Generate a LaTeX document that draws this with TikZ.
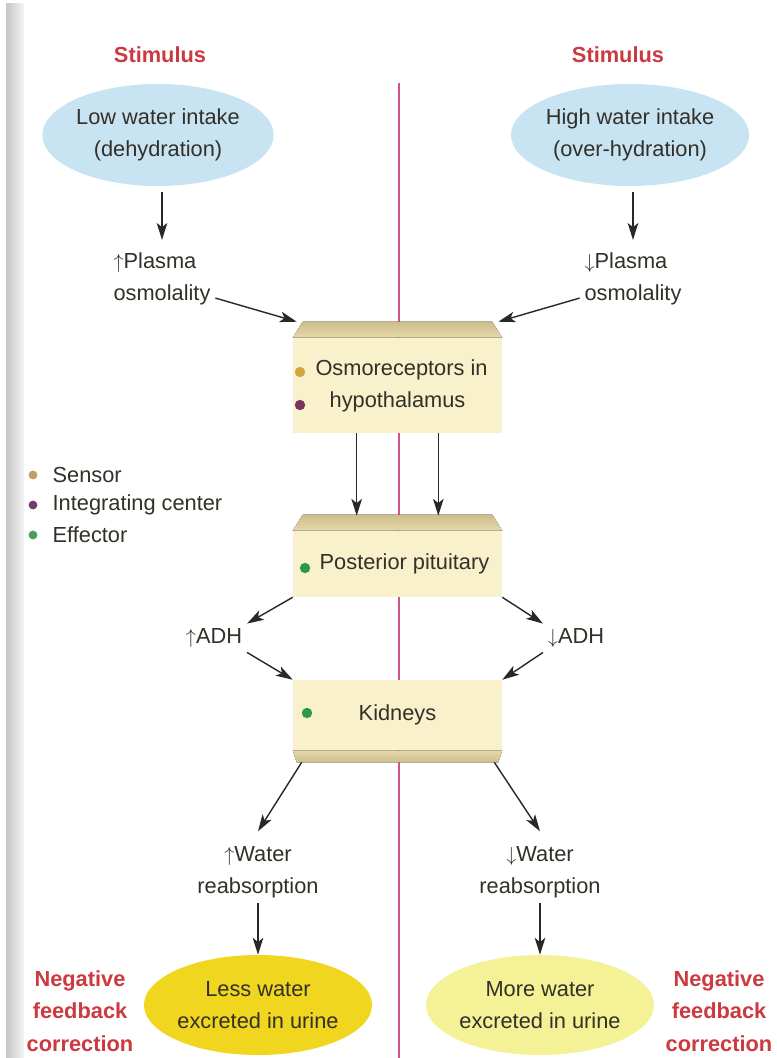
\documentclass[tikz,border=0pt]{standalone}
\usepackage{fontspec}
\setmainfont{Liberation Sans}
\usetikzlibrary{arrows.meta,calc,positioning,shapes.geometric}

\definecolor{stimred}{RGB}{204,58,64}
\definecolor{divider}{RGB}{205,85,140}
\definecolor{waterblue}{RGB}{200,228,242}
\definecolor{boxcream}{RGB}{248,241,203}
\definecolor{slabdark}{RGB}{206,190,140}
\definecolor{slablight}{RGB}{228,216,170}
\definecolor{lessyellow}{RGB}{240,214,30}
\definecolor{moreyellow}{RGB}{244,241,150}
\definecolor{inktext}{RGB}{50,48,40}
\definecolor{arrowgray}{RGB}{40,40,40}
\definecolor{sensordot}{RGB}{214,166,62}
\definecolor{integdot}{RGB}{122,52,92}
\definecolor{effectdot}{RGB}{46,152,72}
\definecolor{legsensor}{RGB}{190,160,100}
\definecolor{leginteg}{RGB}{112,62,110}
\definecolor{legeffect}{RGB}{72,160,92}

\tikzset{
  every node/.style={font=\fontsize{15.5}{22.7}\selectfont, text=inktext},
  arr/.style={-{Stealth[length=12pt,width=7.5pt,inset=3pt]}, line width=1pt, draw=arrowgray},
  redlabel/.style={align=center, text=stimred, font=\fontsize{15.5}{23}\selectfont\bfseries},
  bubble/.style={ellipse, align=center, inner sep=0pt},
  bullet/.style={circle, inner sep=0pt, minimum size=#1},
  bullet/.default=0.26cm,
  facebox/.style={rectangle, fill=boxcream, minimum width=5.225cm, minimum height=#1,
    inner sep=0pt, align=center},
  % bevelled slab on top of a box
  topslab/.style={append after command={\pgfextra{
    \fill[top color=slabdark, bottom color=slablight]
      (\tikzlastnode.north west) -- ([shift={(0.25cm,0.4cm)}]\tikzlastnode.north west)
      -- ([shift={(-0.25cm,0.4cm)}]\tikzlastnode.north east) -- (\tikzlastnode.north east) -- cycle;}}},
  % bevelled slab under a box
  bottomslab/.style={append after command={\pgfextra{
    \fill[top color=slablight, bottom color=slabdark]
      (\tikzlastnode.south west) -- ([shift={(0.1cm,-0.3cm)}]\tikzlastnode.south west)
      -- ([shift={(-0.1cm,-0.3cm)}]\tikzlastnode.south east) -- (\tikzlastnode.south east) -- cycle;}}}
}

\begin{document}
\begin{tikzpicture}[x=0.025cm,y=-0.025cm]
\useasboundingbox (0,0) rectangle (776,1058);
\fill[white] (0,0) rectangle (776,1058);
\shade[left color=gray!45, right color=gray!8] (6,4) rectangle (24,1058);

% divider between the two cases
\coordinate (divtop) at (399,83);
\coordinate (divbot) at (399,1058);
\draw[divider, line width=1.1pt] (divtop) -- (divbot);

% stimuli
\node[redlabel] (stimL) at (160,55) {Stimulus};
\node[redlabel] (stimR) at (618,55) {Stimulus};
\node[bubble, fill=waterblue, minimum width=5.1cm, minimum height=2.55cm] (lowIn) at (158,135) {Low water intake\\(dehydration)};
\node[bubble, fill=waterblue, minimum width=5.1cm, minimum height=2.55cm] (highIn) at (630,135) {High water intake\\(over-hydration)};

\node[align=left] (plasL) at (162,279) {$\uparrow$Plasma\\osmolality};
\node[align=left] (plasR) at (633,279) {$\downarrow$Plasma\\osmolality};

% legend
\node[bullet=0.22cm, fill=legsensor] (dotS) at (33,475) {};
\node[right=0.25cm of dotS] (legS) {Sensor};
\node[bullet=0.22cm, fill=leginteg] (dotI) at (33,505) {};
\node[right=0.25cm of dotI] (legI) {Integrating center};
\node[bullet=0.22cm, fill=legeffect] (dotE) at (33,535) {};
\node[right=0.25cm of dotE] (legE) {Effector};

% the three stages
\node[facebox=2.375cm, topslab] (osmo) at (397.5,385.5) {\hspace*{0.2cm}Osmoreceptors in\\hypothalamus};
\node[bullet, fill=sensordot] (dotOsmoA) at (300,372) {};
\node[bullet, fill=integdot] (dotOsmoB) at (300,405) {};
\node[facebox=1.65cm, topslab] (pitu) at (397.5,564) {\hspace*{0.35cm}Posterior pituitary};
\node[bullet, fill=effectdot] (dotPitu) at (305,568) {};
\node[facebox=1.75cm, bottomslab] (kid) at (397.5,715) {Kidneys};
\node[bullet, fill=effectdot] (dotKid) at (307,713) {};

\node (adhL) at (214,638) {$\uparrow$ADH};
\node (adhR) at (576,638) {$\downarrow$ADH};

\node[align=center] (waterL) at (258,872) {$\uparrow$Water\\reabsorption};
\node[align=center] (waterR) at (540,872) {$\downarrow$Water\\reabsorption};

% corrections
\node[bubble, fill=lessyellow, minimum width=5.7cm, minimum height=2.5cm] (lessW) at (258,1005) {Less water\\excreted in urine};
\node[bubble, fill=moreyellow, minimum width=5.7cm, minimum height=2.5cm] (moreW) at (540,1005) {More water\\excreted in urine};
\node[redlabel] (negL) at (80,1011) {Negative\\feedback\\correction};
\node[redlabel] (negR) at (719,1011) {Negative\\feedback\\correction};

% arrows
\draw[arr, shorten <=0.15cm] (plasL.north |- lowIn.south) -- ([yshift=0.2cm]plasL.north);
\draw[arr, shorten <=0.15cm] (plasR.north |- highIn.south) -- ([yshift=0.2cm]plasR.north);
\draw[arr] ($(plasL.south east)+(0,-12)$) -- ([shift={(0.1cm,0.4cm)}]osmo.north west);
\draw[arr] ($(plasR.south west)+(0,-12)$) -- ([shift={(-0.1cm,0.4cm)}]osmo.north east);
\draw[arr] ([xshift=-1.02cm]osmo.south) -- ([shift={(-1.02cm,0.375cm)}]pitu.north);
\draw[arr] ([xshift=1.02cm]osmo.south) -- ([shift={(1.02cm,0.375cm)}]pitu.north);
\draw[arr] (pitu.south west) -- (adhL.north east);
\draw[arr] (adhL.south east) -- (kid.north west);
\draw[arr] (pitu.south east) -- (adhR.north west);
\draw[arr] (adhR.south west) -- (kid.north east);
\draw[arr] ([shift={(0.225cm,-0.3cm)}]kid.south west) -- ([yshift=0.25cm]waterL.north);
\draw[arr] ([shift={(-0.2cm,-0.3cm)}]kid.south east) -- ([yshift=0.25cm]waterR.north);
\draw[arr] (waterL.south) -- (lessW.north);
\draw[arr] (waterR.south) -- (moreW.north);
\end{tikzpicture}
\end{document}
